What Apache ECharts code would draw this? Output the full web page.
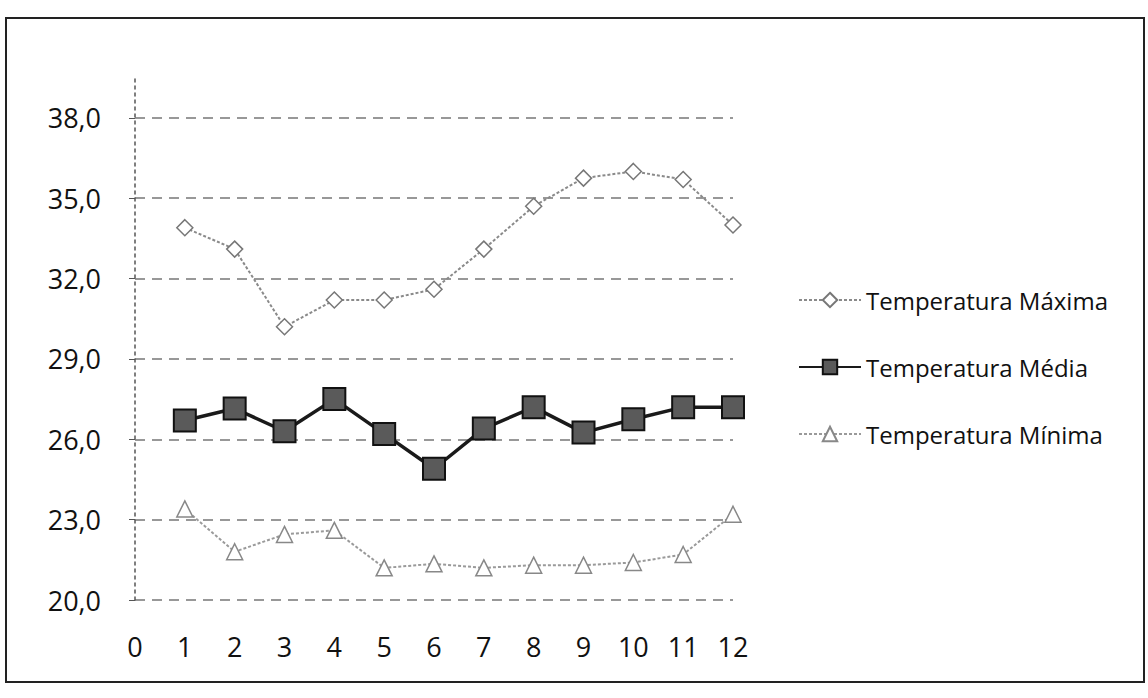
<!DOCTYPE html>
<html>
<head>
<meta charset="utf-8">
<script src="https://cdn.jsdelivr.net/npm/echarts@6/dist/echarts.min.js"></script>
<style>
  html, body { margin: 0; padding: 0; background: #fff; }
  #chart { width: 1148px; height: 698px; }
</style>
</head>
<body>
<div id="chart"></div>
<script>
var months = [1, 2, 3, 4, 5, 6, 7, 8, 9, 10, 11, 12];
var tempMax = [33.9, 33.1, 30.2, 31.2, 31.2, 31.6, 33.1, 34.7, 35.75, 36.0, 35.7, 34.0];
var tempMed = [26.7, 27.15, 26.3, 27.5, 26.2, 24.9, 26.4, 27.2, 26.25, 26.75, 27.2, 27.2];
var tempMin = [23.4, 21.8, 22.45, 22.6, 21.2, 21.35, 21.2, 21.3, 21.3, 21.4, 21.7, 23.2];
var seriesNames = ['Temperatura Máxima', 'Temperatura Média', 'Temperatura Mínima'];

function pairs(values) {
  return months.map(function(m, i) { return [m, values[i]]; });
}

var font = '"Open Sans", sans-serif';
var chart = echarts.init(document.getElementById('chart'), null, { renderer: 'svg' });
chart.setOption({
  animation: false,
  backgroundColor: '#fff',
  textStyle: { fontFamily: font, color: '#111' },
  graphic: [{
    type: 'rect',
    shape: { x: 6, y: 18, width: 1138, height: 664 },
    style: { fill: 'none', stroke: '#222', lineWidth: 2 },
    silent: true
  }],
  grid: { left: 135, right: 415, top: 75, bottom: 98 },
  legend: {
    orient: 'vertical',
    left: 793,
    top: 283,
    itemGap: 43,
    itemWidth: 62,
    itemHeight: 18,
    data: seriesNames,
    textStyle: { fontFamily: font, fontSize: 24, color: '#111' }
  },
  xAxis: {
    type: 'value',
    min: 0,
    max: 12,
    interval: 1,
    axisLine: { show: false },
    axisTick: { show: false },
    splitLine: { show: false },
    axisLabel: { margin: 33, fontFamily: font, fontSize: 27, color: '#111' }
  },
  yAxis: {
    type: 'value',
    min: 20,
    max: 39.6,
    interval: 3,
    axisLine: { show: true, lineStyle: { color: '#555', type: [3, 4], width: 1.5 } },
    axisTick: { show: true, length: 6, lineStyle: { color: '#555' } },
    splitLine: {
      show: true,
      lineStyle: {
        color: ['#777', '#777', '#777', '#777', '#777', '#777', '#777', 'transparent'],
        type: [10, 7],
        width: 1.5
      }
    },
    axisLabel: {
      margin: 34,
      fontFamily: font,
      fontSize: 27,
      color: '#111',
      showMaxLabel: false,
      formatter: function(v) { return v.toFixed(1).replace('.', ','); }
    }
  },
  series: [
    {
      name: seriesNames[0],
      type: 'line',
      data: pairs(tempMax),
      symbol: 'diamond',
      symbolSize: 16,
      lineStyle: { color: '#8a8a8a', width: 2, type: [3, 2] },
      itemStyle: { color: '#fff', borderColor: '#777', borderWidth: 1.5 }
    },
    {
      name: seriesNames[1],
      type: 'line',
      data: pairs(tempMed),
      symbol: 'rect',
      symbolSize: 22,
      lineStyle: { color: '#1a1a1a', width: 3.5 },
      itemStyle: { color: '#5a5a5a', borderColor: '#111', borderWidth: 2 }
    },
    {
      name: seriesNames[2],
      type: 'line',
      data: pairs(tempMin),
      symbol: 'triangle',
      symbolSize: 16,
      lineStyle: { color: '#9a9a9a', width: 2, type: [3, 2] },
      itemStyle: { color: '#fff', borderColor: '#888', borderWidth: 1.5 }
    }
  ]
});
window.addEventListener('resize', function() { chart.resize(); });
</script>
</body>
</html>
